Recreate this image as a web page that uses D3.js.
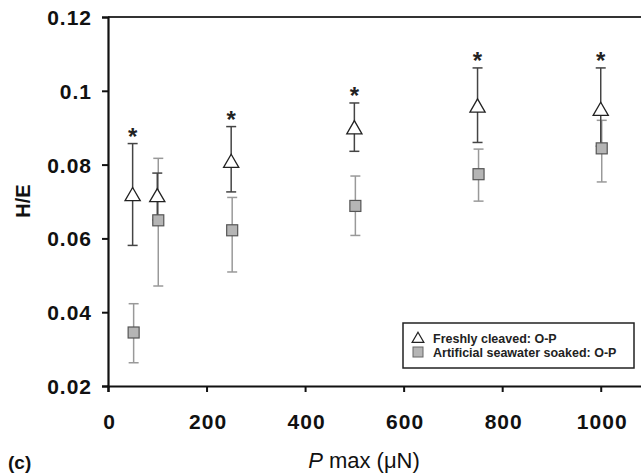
<!DOCTYPE html>
<html>
<head>
<meta charset="utf-8">
<script src="https://cdn.jsdelivr.net/npm/d3@7"></script>
<style>
  body { margin: 0; background: #fff; }
  text { font-family: "Liberation Sans", Arial, sans-serif; }
</style>
</head>
<body>
<div id="chart"></div>
<script>
var width  = 641;
var height = 474;

// data
var loads      = [50, 100, 250, 500, 750, 1000];
var freshMean  = [0.0717, 0.0714, 0.0807, 0.0898, 0.0957, 0.0948];
var freshHi    = [0.0857, 0.0777, 0.0903, 0.0967, 0.1062, 0.1062];
var freshLo    = [0.0581, 0.0650, 0.0726, 0.0836, 0.0860, 0.0850];
var soakMean   = [0.0345, 0.0649, 0.0622, 0.0688, 0.0774, 0.0844];
var soakHi     = [0.0423, 0.0817, 0.0711, 0.0769, 0.0842, 0.0920];
var soakLo     = [0.0263, 0.0471, 0.0509, 0.0608, 0.0701, 0.0753];
var starred    = [50, 250, 500, 750, 1000];
var xTicks     = [0, 200, 400, 600, 800, 1000];
var yTicks     = [0.02, 0.04, 0.06, 0.08, 0.1, 0.12];
var legendText = ["Freshly cleaved: O-P", "Artificial seawater soaked: O-P"];

var svg = d3.select("#chart").append("svg")
  .attr("width", width)
  .attr("height", height);

var x = d3.scaleLinear().domain([0, 1100]).range([108, 650]);
var y = d3.scaleLinear().domain([0.02, 0.12]).range([386, 17]);

// frame line on top
svg.append("line")
  .attr("x1", x(0)).attr("x2", width).attr("y1", y(0.12)).attr("y2", y(0.12))
  .style("stroke", "#333").style("stroke-width", 2);

var yAxis = svg.append("g")
  .attr("transform", "translate(" + x(0) + ",0)")
  .call(d3.axisLeft(y).tickValues(yTicks).tickSize(6).tickFormat(d3.format("")));
var xAxis = svg.append("g")
  .attr("transform", "translate(0," + y(0.02) + ")")
  .call(d3.axisBottom(x).tickValues(xTicks).tickSize(6).tickFormat(d3.format("d")));

[yAxis, xAxis].forEach(function(ax) {
  ax.select(".domain").style("stroke", "#111").style("stroke-width", 2.2);
  ax.selectAll(".tick line").style("stroke", "#111").style("stroke-width", 2);
  ax.selectAll(".tick text")
    .style("font-size", "21px")
    .style("font-weight", "bold")
    .style("letter-spacing", "1px")
    .style("fill", "#111");
});
yAxis.selectAll(".tick text").attr("x", -16).attr("dy", "0.36em");
xAxis.selectAll(".tick text").attr("x", 1).attr("y", 35).attr("dy", "0.36em");

// error bars
function drawBars(hi, lo, colour, shift) {
  var g = svg.append("g");
  loads.forEach(function(p, i) {
    var cx = x(p) + shift;
    g.append("line").attr("x1", cx).attr("x2", cx)
      .attr("y1", y(hi[i])).attr("y2", y(lo[i]))
      .style("stroke", colour).style("stroke-width", 1.5);
    [hi[i], lo[i]].forEach(function(v) {
      g.append("line").attr("x1", cx - 5).attr("x2", cx + 5)
        .attr("y1", y(v)).attr("y2", y(v))
        .style("stroke", colour).style("stroke-width", 1.5);
    });
  });
}
drawBars(soakHi, soakLo, "#999", 1);
drawBars(freshHi, freshLo, "#444", 0);

// squares
svg.selectAll(".soak")
  .data(loads)
  .enter().append("rect")
  .attr("class", "soak")
  .attr("x", function(d) { return x(d) + 1 - 5.5; })
  .attr("y", function(d, i) { return y(soakMean[i]) - 5.5; })
  .attr("width", 11).attr("height", 11)
  .style("fill", "#b5b5b5").style("stroke", "#555").style("stroke-width", 1.2);

// triangles
var tri = d3.symbol().type(d3.symbolTriangle).size(100);
svg.selectAll(".fresh")
  .data(loads)
  .enter().append("path")
  .attr("class", "fresh")
  .attr("d", tri)
  .attr("transform", function(d, i) {
    return "translate(" + x(d) + "," + (y(freshMean[i]) + 1) + ")";
  })
  .style("fill", "#fff").style("stroke", "#222").style("stroke-width", 1.3);

// significance stars
svg.selectAll(".star")
  .data(starred)
  .enter().append("text")
  .attr("class", "star")
  .attr("x", function(d) { return x(d); })
  .attr("y", function(d) { return y(freshHi[loads.indexOf(d)]) + 1; })
  .attr("text-anchor", "middle")
  .style("font-size", "24px")
  .style("font-weight", "bold")
  .style("fill", "#222")
  .text("*");

// legend
var lg = svg.append("g");
lg.append("rect")
  .attr("x", 403).attr("y", 323).attr("width", 231).attr("height", 45)
  .style("fill", "#fff").style("stroke", "#222").style("stroke-width", 1.5);
lg.append("path")
  .attr("d", d3.symbol().type(d3.symbolTriangle).size(60))
  .attr("transform", "translate(418,339)")
  .style("fill", "#fff").style("stroke", "#222").style("stroke-width", 1.2);
lg.append("rect")
  .attr("x", 413).attr("y", 347).attr("width", 10).attr("height", 10)
  .style("fill", "#b5b5b5").style("stroke", "#666").style("stroke-width", 1);
lg.selectAll(".leg")
  .data(legendText)
  .enter().append("text")
  .attr("class", "leg")
  .attr("x", 433)
  .attr("y", function(d, i) { return 343 + i * 14; })
  .style("font-size", "12.5px")
  .style("font-weight", "bold")
  .style("fill", "#222")
  .text(function(d) { return d; });

// axis titles
svg.append("text")
  .attr("transform", "translate(30,201) rotate(-90)")
  .attr("text-anchor", "middle")
  .style("font-size", "20px")
  .style("font-weight", "bold")
  .style("fill", "#111")
  .text("H/E");

var xt = svg.append("text")
  .attr("x", 364).attr("y", 468)
  .attr("text-anchor", "middle")
  .style("font-size", "22px")
  .style("fill", "#111");
xt.append("tspan").style("font-style", "italic").text("P");
xt.append("tspan").text(" max (\u03bcN)");

svg.append("text")
  .attr("x", 8).attr("y", 469)
  .style("font-size", "19px")
  .style("font-weight", "bold")
  .style("fill", "#111")
  .text("(c)");
</script>
</body>
</html>
